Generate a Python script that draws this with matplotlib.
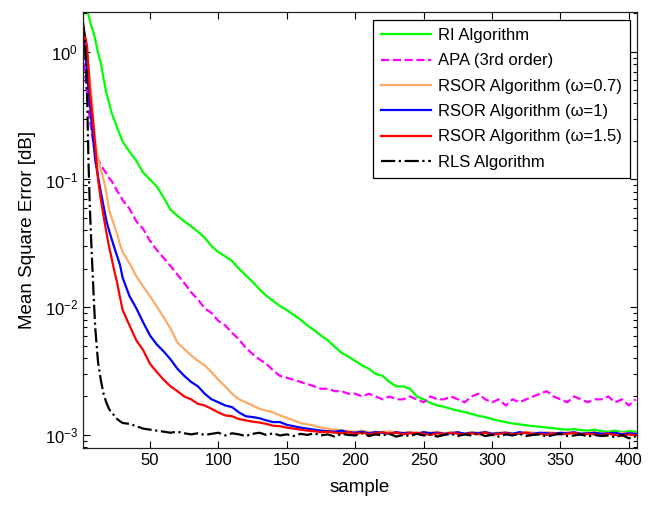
import matplotlib
matplotlib.use('Agg')
import matplotlib.pyplot as plt
from matplotlib.ticker import LogLocator, NullFormatter

## Sample index grid (dense at start, every 5 samples after 30)
samples = [1, 2, 3, 4, 5, 6, 7, 8, 9, 10,
           12, 14, 16, 18, 20, 22, 24, 26, 28, 30,
           35, 40, 45, 50, 55, 60, 65, 70, 75, 80,
           85, 90, 95, 100, 105, 110, 115, 120, 125, 130,
           135, 140, 145, 150, 155, 160, 165, 170, 175, 180,
           185, 190, 195, 200, 205, 210, 215, 220, 225, 230,
           235, 240, 245, 250, 255, 260, 265, 270, 275, 280,
           285, 290, 295, 300, 305, 310, 315, 320, 325, 330,
           335, 340, 345, 350, 355, 360, 365, 370, 375, 380,
           385, 390, 395, 400, 405]

## MSE curves
mse_ri = [2.6, 2.4, 2.25, 2.1, 1.95, 1.75, 1.6, 1.48, 1.38, 1.24,
          0.98, 0.82, 0.62, 0.48, 0.40, 0.33, 0.29, 0.254, 0.224, 0.198,
          0.165, 0.140, 0.113, 0.100, 0.088, 0.072, 0.058, 0.052, 0.047, 0.043,
          0.039, 0.035, 0.030, 0.027, 0.025, 0.023, 0.020, 0.0178, 0.0158, 0.0138,
          0.0123, 0.0112, 0.0102, 0.0095, 0.0087, 0.0080, 0.0072, 0.0066, 0.0060, 0.0055,
          0.0049, 0.0044, 0.0041, 0.0038, 0.0035, 0.0033, 0.0030, 0.0029, 0.0026, 0.0024,
          0.0024, 0.0023, 0.0020, 0.0019, 0.00178, 0.00170, 0.00166, 0.00160, 0.00155, 0.00151,
          0.00146, 0.00141, 0.00138, 0.00133, 0.00129, 0.00126, 0.00123, 0.00121, 0.00119, 0.00117,
          0.00116, 0.00114, 0.00113, 0.00111, 0.00110, 0.00111, 0.00109, 0.00108, 0.00110, 0.00107,
          0.00106, 0.00108, 0.00105, 0.00107, 0.00106]

mse_apa = [1.0, 0.78, 0.6, 0.47, 0.37, 0.29, 0.25, 0.21, 0.18, 0.165,
           0.145, 0.13, 0.12, 0.112, 0.103, 0.097, 0.089, 0.081, 0.076, 0.069,
           0.059, 0.047, 0.041, 0.033, 0.028, 0.0243, 0.021, 0.018, 0.0155, 0.0131,
           0.0115, 0.0098, 0.0090, 0.0078, 0.0072, 0.0063, 0.0056, 0.0048, 0.0043, 0.0039,
           0.0036, 0.0032, 0.0029, 0.0028, 0.0027, 0.0026, 0.0025, 0.0024, 0.0023, 0.0023,
           0.0022, 0.0022, 0.0021, 0.0021, 0.0020, 0.0021, 0.0020, 0.0019, 0.0020, 0.0019,
           0.0019, 0.0020, 0.0019, 0.0018, 0.0020, 0.0019, 0.0019, 0.0020, 0.0019, 0.0018,
           0.0020, 0.0021, 0.0019, 0.0018, 0.0019, 0.0017, 0.0019, 0.0018, 0.0019, 0.0020,
           0.0021, 0.0022, 0.0020, 0.0019, 0.0018, 0.0020, 0.0019, 0.0018, 0.0019, 0.0019,
           0.0020, 0.0018, 0.0019, 0.0017, 0.0019]

mse_rsor_07 = [1.5, 1.3, 1.1, 0.9, 0.75, 0.6, 0.48, 0.36, 0.26, 0.2,
               0.145, 0.12, 0.1, 0.08, 0.058, 0.05, 0.043, 0.037, 0.031, 0.027,
               0.022, 0.0175, 0.0145, 0.0122, 0.0101, 0.0083, 0.0068, 0.0053, 0.0047, 0.0042,
               0.0038, 0.0035, 0.0031, 0.0027, 0.0024, 0.0021, 0.0019, 0.0018, 0.0017, 0.0016,
               0.00155, 0.0015, 0.00142, 0.00136, 0.0013, 0.00124, 0.00121, 0.00118, 0.00114, 0.00112,
               0.0011, 0.00109, 0.00107, 0.00106, 0.00108, 0.00105, 0.00106, 0.00104, 0.00107, 0.00105,
               0.00104, 0.00106, 0.00103, 0.00105, 0.00104, 0.00106, 0.00103, 0.00105, 0.00104, 0.00103,
               0.00105, 0.00104, 0.00106, 0.00103, 0.00104, 0.00105, 0.00103, 0.00104, 0.00106, 0.00104,
               0.00103, 0.00105, 0.00104, 0.00102, 0.00105, 0.00103, 0.00104, 0.00103, 0.00105, 0.00103,
               0.00104, 0.00102, 0.00104, 0.00103, 0.00102]

mse_rsor_1 = [1.4, 1.15, 0.9, 0.7, 0.5, 0.4, 0.3, 0.23, 0.18, 0.14,
              0.105, 0.08, 0.062, 0.048, 0.04, 0.034, 0.029, 0.025, 0.0215, 0.017,
              0.0122, 0.0098, 0.0076, 0.0060, 0.0051, 0.0045, 0.0039, 0.0033, 0.0029, 0.0026,
              0.0024, 0.0021, 0.0019, 0.0018, 0.0017, 0.00165, 0.0015, 0.0014, 0.00138, 0.00135,
              0.0013, 0.00126, 0.00126, 0.0012, 0.00117, 0.00114, 0.00112, 0.0011, 0.00108, 0.00107,
              0.00106, 0.00108, 0.00105, 0.00104, 0.00106, 0.00103, 0.00105, 0.00104, 0.00102, 0.00105,
              0.00103, 0.00104, 0.00102, 0.00105, 0.00103, 0.00104, 0.00102, 0.00103, 0.00105, 0.00102,
              0.00104, 0.00103, 0.00105, 0.00102, 0.00103, 0.00104, 0.00102, 0.00105, 0.00103, 0.00102,
              0.00104, 0.00103, 0.00102, 0.00104, 0.00103, 0.00105, 0.00102, 0.00103, 0.00104, 0.00102,
              0.00103, 0.00104, 0.00101, 0.00103, 0.00102]

mse_rsor_15 = [1.6, 1.4, 1.25, 1.1, 0.75, 0.5, 0.39, 0.31, 0.24, 0.18,
               0.10, 0.07, 0.052, 0.039, 0.030, 0.024, 0.019, 0.0155, 0.012, 0.0095,
               0.0072, 0.0055, 0.0046, 0.0036, 0.0031, 0.0027, 0.0024, 0.0022, 0.0020, 0.0019,
               0.00175, 0.0017, 0.0016, 0.0015, 0.00142, 0.0014, 0.00133, 0.0013, 0.00127, 0.00125,
               0.00122, 0.00118, 0.00117, 0.00114, 0.00112, 0.0011, 0.00108, 0.00107, 0.00105, 0.00106,
               0.00104, 0.00103, 0.00105, 0.00102, 0.00104, 0.00101, 0.00103, 0.00105, 0.00102, 0.00104,
               0.00101, 0.00103, 0.00104, 0.00102, 0.00100, 0.00103, 0.00101, 0.00104, 0.00102, 0.00101,
               0.00103, 0.00101, 0.00104, 0.00100, 0.00102, 0.00103, 0.00101, 0.00102, 0.00104, 0.00101,
               0.00102, 0.00100, 0.00103, 0.00101, 0.00102, 0.00104, 0.00100, 0.00102, 0.00101, 0.00099,
               0.00102, 0.00100, 0.00098, 0.00101, 0.00099]

mse_rls = [1.7, 1.4, 0.9, 0.45, 0.14, 0.06, 0.033, 0.019, 0.011, 0.0068,
           0.0037, 0.0027, 0.0021, 0.0018, 0.0016, 0.00148, 0.00142, 0.00133, 0.00128, 0.00124,
           0.00122, 0.00117, 0.00112, 0.0011, 0.00108, 0.00106, 0.00104, 0.00106, 0.00103, 0.00101,
           0.00103, 0.00100, 0.00102, 0.00104, 0.00099, 0.00103, 0.00101, 0.00098, 0.00102, 0.00104,
           0.00100, 0.00103, 0.00099, 0.00101, 0.00098, 0.00102, 0.00100, 0.00103, 0.00099, 0.00101,
           0.00097, 0.00102, 0.00100, 0.00099, 0.00103, 0.00098, 0.00101, 0.00099, 0.00102, 0.00097,
           0.00100, 0.00098, 0.00102, 0.00099, 0.00101, 0.00097, 0.00100, 0.00102, 0.00098, 0.00101,
           0.00099, 0.00103, 0.00098, 0.00100, 0.00097, 0.00101, 0.00099, 0.00102, 0.00098, 0.00100,
           0.00101, 0.00097, 0.00100, 0.00102, 0.00098, 0.00099, 0.00101, 0.00097, 0.00100, 0.00098,
           0.00099, 0.00096, 0.00100, 0.00094, 0.00097]

## Series styles
series = [
    ("RI Algorithm", mse_ri, "#00ff00", "-"),
    ("APA (3rd order)", mse_apa, "#ff00ff", "--"),
    ("RSOR Algorithm (\u03c9=0.7)", mse_rsor_07, "#ffaa66", "-"),
    ("RSOR Algorithm (\u03c9=1)", mse_rsor_1, "#0000ff", "-"),
    ("RSOR Algorithm (\u03c9=1.5)", mse_rsor_15, "#ff0000", "-"),
    ("RLS Algorithm", mse_rls, "#000000", "-."),
]

plt.rcParams['font.family'] = ['Liberation Sans', 'DejaVu Sans']
plt.rcParams['mathtext.fontset'] = 'custom'
plt.rcParams['mathtext.rm'] = 'Liberation Sans'
plt.rcParams['mathtext.it'] = 'Liberation Sans'

fig = plt.figure(figsize=(6.51, 5.05), dpi=100)
ax = fig.add_axes([0.1275, 0.1129, 0.851, 0.8634])

for label, values, colour, style in series:
    ax.plot(samples, values, color=colour, linestyle=style, linewidth=1.6, label=label)

ax.set_yscale('log')
ax.set_xlim(1, 406)
ax.set_ylim(7.9e-4, 2.05)
ax.set_xticks([50, 100, 150, 200, 250, 300, 350, 400])
ax.yaxis.set_major_locator(LogLocator(base=10, numticks=10))
ax.yaxis.set_minor_locator(LogLocator(base=10, subs=range(2, 10), numticks=20))
ax.yaxis.set_minor_formatter(NullFormatter())

ax.tick_params(which='both', direction='in', top=True, right=True, labelsize=12, width=0.8)
ax.tick_params(which='major', length=5)
ax.tick_params(which='minor', length=3)
for sp in ax.spines.values():
    sp.set_linewidth(0.9)
    sp.set_color('#222222')

ax.set_xlabel("sample", fontsize=13.5, labelpad=8)
ax.set_ylabel("Mean Square Error [dB]", fontsize=13.5, labelpad=6)

legend = ax.legend(loc='upper right', bbox_to_anchor=(0.987, 0.982), borderaxespad=0,
                   fontsize=12, fancybox=False, framealpha=1, edgecolor='black',
                   handlelength=3.0, handletextpad=0.4, labelspacing=0.62, borderpad=0.5)
legend.get_frame().set_linewidth(0.9)

plt.savefig("out.png", dpi=100)
